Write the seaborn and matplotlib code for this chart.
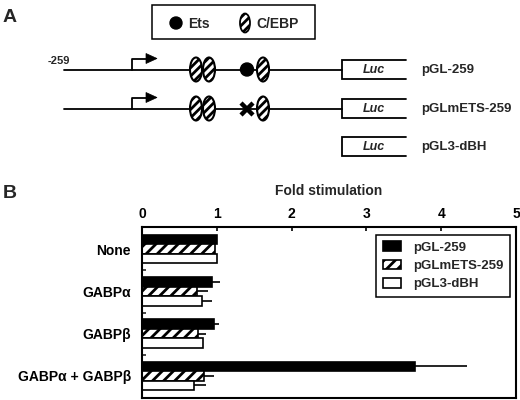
import numpy as np
import pandas as pd
import matplotlib
matplotlib.use("Agg")
import matplotlib.pyplot as plt
import seaborn as sns
from matplotlib.patches import Ellipse, Rectangle, Polygon, Patch

# ---------------- data ----------------
categories = ["None", "GABPα", "GABPβ", "GABPα + GABPβ"]
constructs = ["pGL-259", "pGLmETS-259", "pGL3-dBH"]
fold_pgl259 = [1.00, 0.94, 0.96, 3.65]
fold_mets259 = [0.97, 0.74, 0.75, 0.83]
fold_dbh = [1.00, 0.80, 0.82, 0.69]
err_pgl259 = [0.00, 0.10, 0.07, 0.70]
err_mets259 = [0.00, 0.14, 0.11, 0.13]
err_dbh = [0.00, 0.13, 0.00, 0.16]
xtick_values = [0, 1, 2, 3, 4, 5]

schematic_rows = ["pGL-259", "pGLmETS-259", "pGL3-dBH"]

# ---------------- style ----------------
sns.set_theme(style="white")
plt.rcParams["font.family"] = ["Liberation Sans", "DejaVu Sans"]
plt.rcParams["hatch.linewidth"] = 2.0
plt.rcParams["hatch.color"] = "black"

fig = plt.figure(figsize=(5.2, 4.0), dpi=100)
fig.patch.set_facecolor("white")

# ---------------- panel A (schematic, pixel coordinates) ----------------
sa = fig.add_axes([0, 0, 1, 1])
sa.set_xlim(0, 520)
sa.set_ylim(400, 0)
sa.set_axis_off()

lw = 1.3
sa.text(3, 17, "A", fontsize=14, fontweight="bold", ha="left", va="center")
sa.text(3, 193, "B", fontsize=14, fontweight="bold", ha="left", va="center")

# legend box of the schematic
sa.add_patch(Rectangle((152, 5), 163, 34, fill=False, edgecolor="black", lw=1.1))
sa.add_patch(Ellipse((176, 23), 12, 12, facecolor="black", edgecolor="black"))
sa.text(188, 23.5, "Ets", fontsize=10, fontweight="bold", ha="left", va="center")
sa.add_patch(Ellipse((245, 23), 10, 19, facecolor="white", edgecolor="black",
                     lw=1.3, hatch="////"))
sa.text(256, 23.5, "C/EBP", fontsize=10, fontweight="bold", ha="left", va="center")

row_y = [69.5, 108.5, 146.5]
luc_x0, luc_x1, luc_h = 342, 406, 19

def luc_box(y):
    sa.plot([luc_x1, luc_x0, luc_x0, luc_x1],
            [y - luc_h / 2, y - luc_h / 2, y + luc_h / 2, y + luc_h / 2],
            color="black", lw=lw, solid_joinstyle="miter")
    sa.text((luc_x0 + luc_x1) / 2, y + 0.5, "Luc", fontsize=9, fontweight="bold",
            fontstyle="italic", ha="center", va="center")

for i, (name, y) in enumerate(zip(schematic_rows, row_y)):
    if i < 2:
        sa.plot([64, luc_x0], [y, y], color="black", lw=lw)
        # transcription start arrow
        sa.plot([132, 132, 147], [y, y - 11, y - 11], color="black", lw=lw)
        sa.add_patch(Polygon([[146, y - 16], [146, y - 6], [157, y - 11]],
                             closed=True, facecolor="black", edgecolor="black", lw=0.5))
        for ex in (196, 209, 263):
            sa.add_patch(Ellipse((ex, y), 12, 24, facecolor="white", edgecolor="black",
                                 lw=1.5, hatch="////", zorder=3))
        if i == 0:
            sa.add_patch(Ellipse((247, y), 13, 13, facecolor="black", edgecolor="black",
                                 zorder=3))
        else:
            sa.plot([247], [y], marker="x", markersize=9, mew=3.2, color="black", zorder=3)
    luc_box(y)
    sa.text(421, y + 0.5, name, fontsize=9.5, fontweight="bold", ha="left", va="center")

sa.text(48, 61, "-259", fontsize=8, fontweight="bold", ha="left", va="center")

# ---------------- panel B (bar chart) ----------------
df = pd.DataFrame({
    "category": categories * 3,
    "construct": [constructs[0]] * 4 + [constructs[1]] * 4 + [constructs[2]] * 4,
    "fold": fold_pgl259 + fold_mets259 + fold_dbh,
})
errs = [err_pgl259, err_mets259, err_dbh]
colors = ["black", "white", "white"]
hatches = [None, "///", None]

ax = fig.add_axes([142 / 520, 2 / 400, (516 - 142) / 520, (398 - 227) / 400])
sns.barplot(data=df, y="category", x="fold", hue="construct", orient="h",
            order=categories, hue_order=constructs, palette=colors,
            edgecolor="black", linewidth=1.2, errorbar=None, width=0.68,
            legend=False, ax=ax, saturation=1)

for cont, h, e in zip(ax.containers, hatches, errs):
    ys, xs, ex = [], [], []
    for bar, err in zip(cont, e):
        if h:
            bar.set_hatch(h)
        if err > 0:
            ys.append(bar.get_y() + bar.get_height() / 2)
            xs.append(bar.get_width())
            ex.append(err)
    if ys:
        ax.errorbar(xs, ys, xerr=[np.zeros(len(ex)), ex], fmt="none",
                    ecolor="black", elinewidth=1.2, capsize=0, zorder=1)

ax.set_xlim(0, 5)
ax.set_xticks(xtick_values)
ax.set_xticklabels([str(v) for v in xtick_values], fontsize=10, fontweight="bold")
ax.xaxis.tick_top()
ax.xaxis.set_label_position("top")
ax.set_xlabel("Fold stimulation", fontsize=10, fontweight="bold", labelpad=9)
ax.set_ylabel("")
ax.set_yticks(range(len(categories)))
ax.set_yticklabels(categories, fontsize=10, fontweight="bold")
ax.set_yticks([0.5, 1.5, 2.5], minor=True)
ax.tick_params(axis="x", which="major", direction="in", length=3, width=1.2,
               top=True, bottom=False, labeltop=True, labelbottom=False, pad=4,
               colors="black")
ax.tick_params(axis="y", which="major", length=0, pad=8, colors="black")
ax.tick_params(axis="y", which="minor", direction="in", length=3, width=1.2, left=True)
for s in ax.spines.values():
    s.set_color("black")
    s.set_linewidth(1.5)
    s.set_visible(True)

handles = [Patch(facecolor=c, edgecolor="black", hatch=h, lw=1.2)
           for c, h in zip(colors, hatches)]
leg = ax.legend(handles, constructs, loc="upper right", bbox_to_anchor=(0.984, 0.955),
                borderaxespad=0, fancybox=False, framealpha=1, edgecolor="black",
                prop={"weight": "bold", "size": 9.5}, handlelength=1.4,
                handleheight=0.75, handletextpad=0.9, labelspacing=0.45,
                borderpad=0.5)
leg.get_frame().set_linewidth(1.1)

fig.savefig("out.png", dpi=100, facecolor="white")
